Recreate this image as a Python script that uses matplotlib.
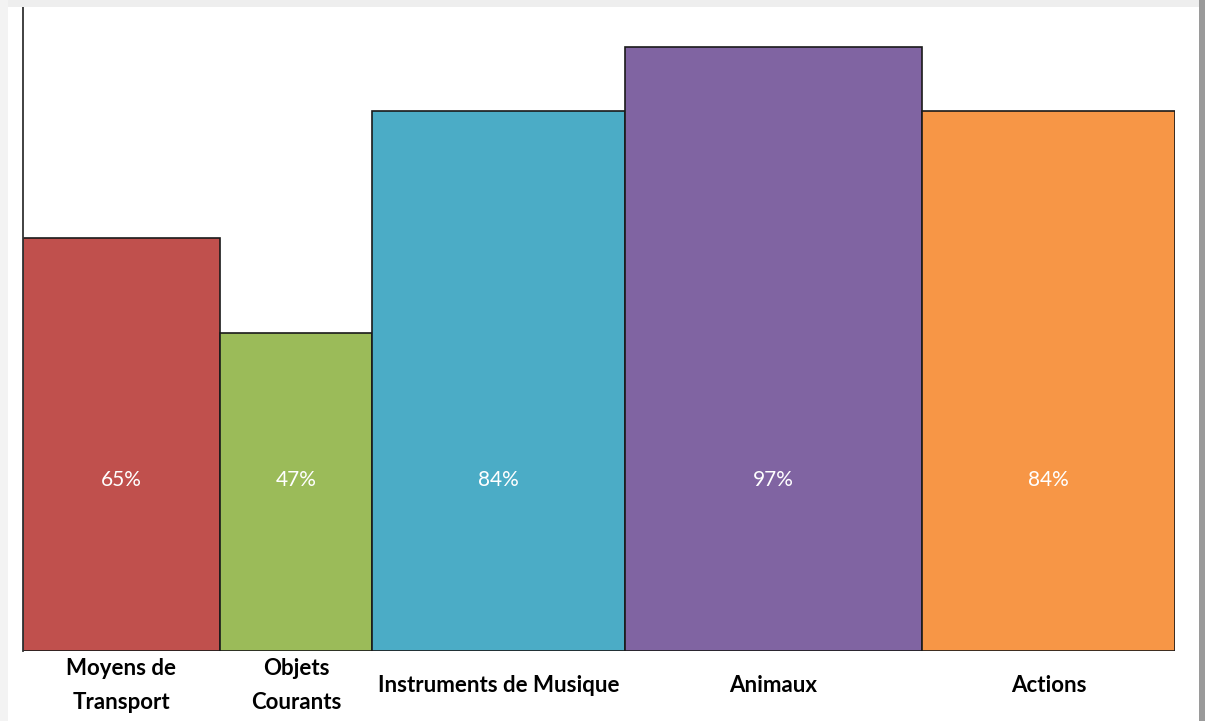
import matplotlib.pyplot as plt
from matplotlib.patches import Rectangle
import numpy as np

categories = ["Moyens de\nTransport", "Objets\nCourants", "Instruments de Musique", "Animaux", "Actions"]
percent_labels = ["65%", "47%", "84%", "97%", "84%"]
bar_heights = [64.1, 49.4, 83.9, 93.8, 83.9]
bar_widths = [197, 152, 253, 297, 253]
colors = ["#c0504d", "#9bbb59", "#4bacc6", "#8064a2", "#f79646"]

W, H = 1205, 721
fig = plt.figure(figsize=(W / 100, H / 100), dpi=100)

# screenshot-style frame shadow
fig.patches.append(Rectangle((0, 1 - 7 / H), 1, 7 / H, transform=fig.transFigure,
                             facecolor="#eeeeee", edgecolor="none", zorder=0))
fig.patches.append(Rectangle((0, 0), 8 / W, 1, transform=fig.transFigure,
                             facecolor="#f3f3f3", edgecolor="none", zorder=0))
fig.patches.append(Rectangle((1 - 6 / W, 0), 6 / W, 1, transform=fig.transFigure,
                             facecolor="#9a9a9a", edgecolor="none", zorder=0))

ax = fig.add_axes([23 / W, 70 / H, (1175 - 23) / W, (651 - 7) / H])
ax.patch.set_alpha(0)

lefts = np.concatenate([[0], np.cumsum(bar_widths)[:-1]])
centers = lefts + np.array(bar_widths) / 2
ax.bar(lefts, bar_heights, width=bar_widths, align="edge", color=colors,
       edgecolor="#1a1a1a", linewidth=1.2)

for cx, lab in zip(centers, percent_labels):
    ax.text(cx, 26.6, lab, ha="center", va="center", color="white",
            fontsize=15, family="Lato")

ax.set_xlim(0, sum(bar_widths))
ax.set_ylim(0, 100)
ax.set_xticks(centers)
ax.set_xticklabels(categories, fontsize=16, fontweight="bold", family="Lato",
                   linespacing=1.75, va="center")
ax.tick_params(axis="x", length=0, pad=25)
ax.set_yticks([])
for side in ["top", "right", "bottom"]:
    ax.spines[side].set_visible(False)
ax.spines["left"].set_color("#333333")
ax.spines["left"].set_linewidth(1.3)

fig.savefig("out.png", dpi=100)
